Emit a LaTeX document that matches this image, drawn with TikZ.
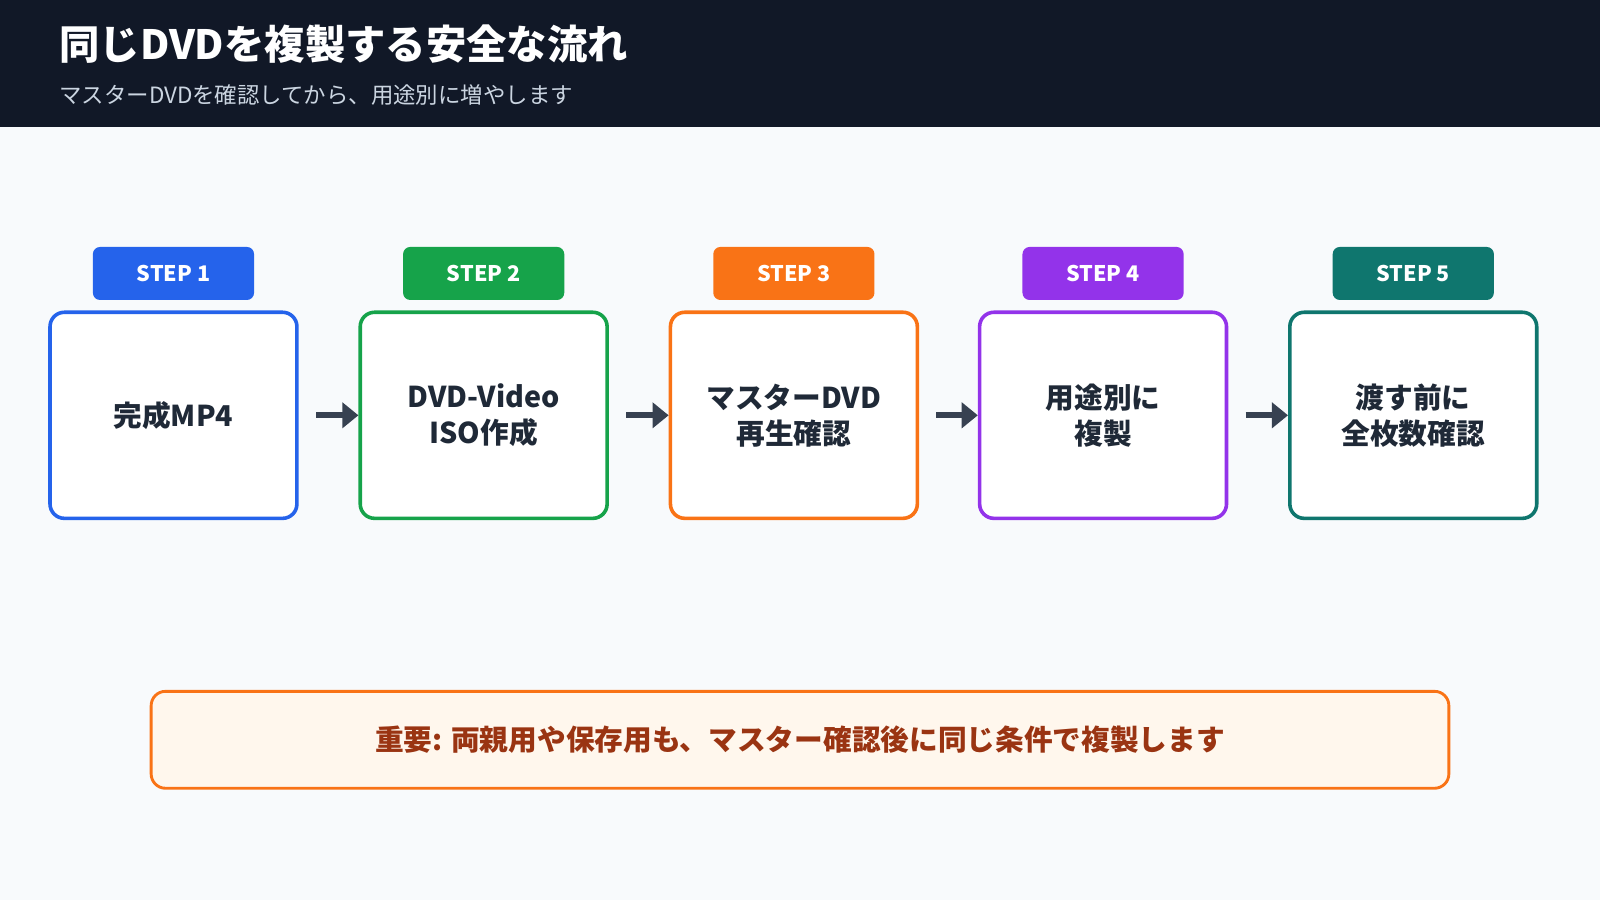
\documentclass[tikz,border=0pt]{standalone}
\usepackage{fontspec}
\setmainfont{Noto Sans CJK JP}
\usetikzlibrary{arrows.meta}
\definecolor{hdr}{HTML}{111827}
\definecolor{bg}{HTML}{F8FAFC}
\definecolor{sub}{HTML}{CBD5E1}
\definecolor{cb}{HTML}{2563EB}
\definecolor{cg}{HTML}{16A34A}
\definecolor{co}{HTML}{F97316}
\definecolor{cp}{HTML}{9333EA}
\definecolor{ct}{HTML}{0F766E}
\definecolor{arr}{HTML}{374151}
\definecolor{txt}{HTML}{1F2937}
\definecolor{note}{HTML}{FFF7ED}
\definecolor{notet}{HTML}{9A3412}
\begin{document}
\begin{tikzpicture}[x=0.02cm,y=-0.02cm,
 box/.style={draw=#1,line width=2pt,fill=white,rounded corners=8pt,minimum width=4.84cm,minimum height=4.04cm,align=center,font=\fontsize{16}{20}\selectfont\bfseries,text=txt},
 tag/.style={fill=#1,rounded corners=4pt,minimum width=3.16cm,minimum height=1.04cm,text=white,font=\fontsize{12}{14}\selectfont\bfseries},
 arw/.style={draw=arr,line width=3.5pt,-{Triangle[length=9pt,width=14pt]}}]
\useasboundingbox (0,0) rectangle (1568,882);
\fill[bg] (0,0) rectangle (1568,882);
\fill[hdr] (0,0) rectangle (1568,124);
\node[anchor=west,text=white,font=\fontsize{22.5}{26}\selectfont\bfseries] (title) at (52,43) {同じDVDを複製する安全な流れ};
\node[anchor=west,text=sub,font=\fontsize{12.5}{15}\selectfont] (subt) at (52,93) {マスターDVDを確認してから、用途別に増やします};
\foreach \i/\x/\c/\t in {1/170/cb/{完成MP4},2/474/cg/{DVD-Video\\ISO作成},3/778/co/{マスターDVD\\再生確認},4/1081/cp/{用途別に\\複製},5/1385/ct/{渡す前に\\全枚数確認}}{
  \node[box=\c] (b\i) at (\x,407) {\t};
  \node[tag=\c] (t\i) at (\x,268) {STEP \i};
}
\foreach \a/\b in {1/2,2/3,3/4,4/5}{
  \draw[arw] ([xshift=0.34cm]b\a.east) -- (b\b.west);
}
\node[draw=co,line width=1.6pt,fill=note,rounded corners=8pt,minimum width=25.44cm,minimum height=1.9cm,text=notet,font=\fontsize{16}{20}\selectfont\bfseries] (note) at (784,725) {重要: 両親用や保存用も、マスター確認後に同じ条件で複製します};
\end{tikzpicture}
\end{document}
